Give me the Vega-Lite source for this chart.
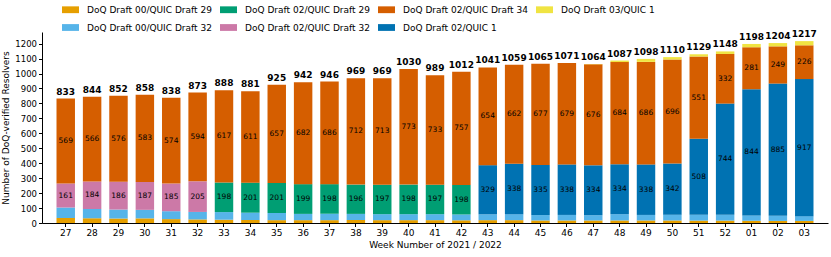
{
  "$schema": "https://vega.github.io/schema/vega-lite/v6.json",
  "width": 786,
  "height": 191,
  "autosize": {"type": "none"},
  "padding": {"left": 42, "top": 32, "right": 3, "bottom": 34},
  "config": {
    "font": "DejaVu Sans",
    "view": {"stroke": null},
    "axis": {"labelFont": "DejaVu Sans", "titleFont": "DejaVu Sans", "labelFontSize": 9, "titleFontSize": 9, "titleFontWeight": "normal", "labelColor": "#000", "titleColor": "#000", "domainColor": "#000", "tickColor": "#000", "tickSize": 3.5, "labelPadding": 2, "grid": false},
    "axisY": {"tickCount": 13, "labelOverlap": false, "labelFontSize": 8.5}
  },
  "data": {"values": [
    {"w":"27","v":"DoQ Draft 00/QUIC Draft 29","n":34},{"w":"27","v":"DoQ Draft 00/QUIC Draft 32","n":69},{"w":"27","v":"DoQ Draft 02/QUIC Draft 32","n":161},{"w":"27","v":"DoQ Draft 02/QUIC Draft 34","n":569},
    {"w":"28","v":"DoQ Draft 00/QUIC Draft 29","n":31},{"w":"28","v":"DoQ Draft 00/QUIC Draft 32","n":63},{"w":"28","v":"DoQ Draft 02/QUIC Draft 32","n":184},{"w":"28","v":"DoQ Draft 02/QUIC Draft 34","n":566},
    {"w":"29","v":"DoQ Draft 00/QUIC Draft 29","n":30},{"w":"29","v":"DoQ Draft 00/QUIC Draft 32","n":60},{"w":"29","v":"DoQ Draft 02/QUIC Draft 32","n":186},{"w":"29","v":"DoQ Draft 02/QUIC Draft 34","n":576},
    {"w":"30","v":"DoQ Draft 00/QUIC Draft 29","n":31},{"w":"30","v":"DoQ Draft 00/QUIC Draft 32","n":57},{"w":"30","v":"DoQ Draft 02/QUIC Draft 32","n":187},{"w":"30","v":"DoQ Draft 02/QUIC Draft 34","n":583},
    {"w":"31","v":"DoQ Draft 00/QUIC Draft 29","n":26},{"w":"31","v":"DoQ Draft 00/QUIC Draft 32","n":53},{"w":"31","v":"DoQ Draft 02/QUIC Draft 32","n":185},{"w":"31","v":"DoQ Draft 02/QUIC Draft 34","n":574},
    {"w":"32","v":"DoQ Draft 00/QUIC Draft 29","n":24},{"w":"32","v":"DoQ Draft 00/QUIC Draft 32","n":50},{"w":"32","v":"DoQ Draft 02/QUIC Draft 32","n":205},{"w":"32","v":"DoQ Draft 02/QUIC Draft 34","n":594},
    {"w":"33","v":"DoQ Draft 00/QUIC Draft 29","n":22},{"w":"33","v":"DoQ Draft 00/QUIC Draft 32","n":51},{"w":"33","v":"DoQ Draft 02/QUIC Draft 29","n":198},{"w":"33","v":"DoQ Draft 02/QUIC Draft 34","n":617},
    {"w":"34","v":"DoQ Draft 00/QUIC Draft 29","n":20},{"w":"34","v":"DoQ Draft 00/QUIC Draft 32","n":49},{"w":"34","v":"DoQ Draft 02/QUIC Draft 29","n":201},{"w":"34","v":"DoQ Draft 02/QUIC Draft 34","n":611},
    {"w":"35","v":"DoQ Draft 00/QUIC Draft 29","n":19},{"w":"35","v":"DoQ Draft 00/QUIC Draft 32","n":48},{"w":"35","v":"DoQ Draft 02/QUIC Draft 29","n":201},{"w":"35","v":"DoQ Draft 02/QUIC Draft 34","n":657},
    {"w":"36","v":"DoQ Draft 00/QUIC Draft 29","n":19},{"w":"36","v":"DoQ Draft 00/QUIC Draft 32","n":42},{"w":"36","v":"DoQ Draft 02/QUIC Draft 29","n":199},{"w":"36","v":"DoQ Draft 02/QUIC Draft 34","n":682},
    {"w":"37","v":"DoQ Draft 00/QUIC Draft 29","n":19},{"w":"37","v":"DoQ Draft 00/QUIC Draft 32","n":43},{"w":"37","v":"DoQ Draft 02/QUIC Draft 29","n":198},{"w":"37","v":"DoQ Draft 02/QUIC Draft 34","n":686},
    {"w":"38","v":"DoQ Draft 00/QUIC Draft 29","n":20},{"w":"38","v":"DoQ Draft 00/QUIC Draft 32","n":41},{"w":"38","v":"DoQ Draft 02/QUIC Draft 29","n":196},{"w":"38","v":"DoQ Draft 02/QUIC Draft 34","n":712},
    {"w":"39","v":"DoQ Draft 00/QUIC Draft 29","n":19},{"w":"39","v":"DoQ Draft 00/QUIC Draft 32","n":40},{"w":"39","v":"DoQ Draft 02/QUIC Draft 29","n":197},{"w":"39","v":"DoQ Draft 02/QUIC Draft 34","n":713},
    {"w":"40","v":"DoQ Draft 00/QUIC Draft 29","n":19},{"w":"40","v":"DoQ Draft 00/QUIC Draft 32","n":40},{"w":"40","v":"DoQ Draft 02/QUIC Draft 29","n":198},{"w":"40","v":"DoQ Draft 02/QUIC Draft 34","n":773},
    {"w":"41","v":"DoQ Draft 00/QUIC Draft 29","n":19},{"w":"41","v":"DoQ Draft 00/QUIC Draft 32","n":40},{"w":"41","v":"DoQ Draft 02/QUIC Draft 29","n":197},{"w":"41","v":"DoQ Draft 02/QUIC Draft 34","n":733},
    {"w":"42","v":"DoQ Draft 00/QUIC Draft 29","n":18},{"w":"42","v":"DoQ Draft 00/QUIC Draft 32","n":39},{"w":"42","v":"DoQ Draft 02/QUIC Draft 29","n":198},{"w":"42","v":"DoQ Draft 02/QUIC Draft 34","n":757},
    {"w":"43","v":"DoQ Draft 00/QUIC Draft 29","n":19},{"w":"43","v":"DoQ Draft 00/QUIC Draft 32","n":39},{"w":"43","v":"DoQ Draft 02/QUIC 1","n":329},{"w":"43","v":"DoQ Draft 02/QUIC Draft 34","n":654},
    {"w":"44","v":"DoQ Draft 00/QUIC Draft 29","n":19},{"w":"44","v":"DoQ Draft 00/QUIC Draft 32","n":40},{"w":"44","v":"DoQ Draft 02/QUIC 1","n":338},{"w":"44","v":"DoQ Draft 02/QUIC Draft 34","n":662},
    {"w":"45","v":"DoQ Draft 00/QUIC Draft 29","n":17},{"w":"45","v":"DoQ Draft 00/QUIC Draft 32","n":36},{"w":"45","v":"DoQ Draft 02/QUIC 1","n":335},{"w":"45","v":"DoQ Draft 02/QUIC Draft 34","n":677},
    {"w":"46","v":"DoQ Draft 00/QUIC Draft 29","n":17},{"w":"46","v":"DoQ Draft 00/QUIC Draft 32","n":37},{"w":"46","v":"DoQ Draft 02/QUIC 1","n":338},{"w":"46","v":"DoQ Draft 02/QUIC Draft 34","n":679},
    {"w":"47","v":"DoQ Draft 00/QUIC Draft 29","n":17},{"w":"47","v":"DoQ Draft 00/QUIC Draft 32","n":35},{"w":"47","v":"DoQ Draft 02/QUIC 1","n":334},{"w":"47","v":"DoQ Draft 02/QUIC Draft 34","n":676},{"w":"47","v":"DoQ Draft 03/QUIC 1","n":2},
    {"w":"48","v":"DoQ Draft 00/QUIC Draft 29","n":17},{"w":"48","v":"DoQ Draft 00/QUIC Draft 32","n":42},{"w":"48","v":"DoQ Draft 02/QUIC 1","n":334},{"w":"48","v":"DoQ Draft 02/QUIC Draft 34","n":684},{"w":"48","v":"DoQ Draft 03/QUIC 1","n":10},
    {"w":"49","v":"DoQ Draft 00/QUIC Draft 29","n":17},{"w":"49","v":"DoQ Draft 00/QUIC Draft 32","n":37},{"w":"49","v":"DoQ Draft 02/QUIC 1","n":338},{"w":"49","v":"DoQ Draft 02/QUIC Draft 34","n":686},{"w":"49","v":"DoQ Draft 03/QUIC 1","n":20},
    {"w":"50","v":"DoQ Draft 00/QUIC Draft 29","n":17},{"w":"50","v":"DoQ Draft 00/QUIC Draft 32","n":39},{"w":"50","v":"DoQ Draft 02/QUIC 1","n":342},{"w":"50","v":"DoQ Draft 02/QUIC Draft 34","n":696},{"w":"50","v":"DoQ Draft 03/QUIC 1","n":16},
    {"w":"51","v":"DoQ Draft 00/QUIC Draft 29","n":16},{"w":"51","v":"DoQ Draft 00/QUIC Draft 32","n":39},{"w":"51","v":"DoQ Draft 02/QUIC 1","n":508},{"w":"51","v":"DoQ Draft 02/QUIC Draft 34","n":551},{"w":"51","v":"DoQ Draft 03/QUIC 1","n":15},
    {"w":"52","v":"DoQ Draft 00/QUIC Draft 29","n":16},{"w":"52","v":"DoQ Draft 00/QUIC Draft 32","n":39},{"w":"52","v":"DoQ Draft 02/QUIC 1","n":744},{"w":"52","v":"DoQ Draft 02/QUIC Draft 34","n":332},{"w":"52","v":"DoQ Draft 03/QUIC 1","n":17},
    {"w":"01","v":"DoQ Draft 00/QUIC Draft 29","n":15},{"w":"01","v":"DoQ Draft 00/QUIC Draft 32","n":36},{"w":"01","v":"DoQ Draft 02/QUIC 1","n":844},{"w":"01","v":"DoQ Draft 02/QUIC Draft 34","n":281},{"w":"01","v":"DoQ Draft 03/QUIC 1","n":22},
    {"w":"02","v":"DoQ Draft 00/QUIC Draft 29","n":14},{"w":"02","v":"DoQ Draft 00/QUIC Draft 32","n":34},{"w":"02","v":"DoQ Draft 02/QUIC 1","n":885},{"w":"02","v":"DoQ Draft 02/QUIC Draft 34","n":249},{"w":"02","v":"DoQ Draft 03/QUIC 1","n":22},
    {"w":"03","v":"DoQ Draft 00/QUIC Draft 29","n":14},{"w":"03","v":"DoQ Draft 00/QUIC Draft 32","n":32},{"w":"03","v":"DoQ Draft 02/QUIC 1","n":917},{"w":"03","v":"DoQ Draft 02/QUIC Draft 34","n":226},{"w":"03","v":"DoQ Draft 03/QUIC 1","n":28}
  ]},
  "encoding": {
    "x": {
      "field": "w", "type": "nominal",
      "sort": ["27","28","29","30","31","32","33","34","35","36","37","38","39","40","41","42","43","44","45","46","47","48","49","50","51","52","01","02","03"],
      "scale": {"paddingInner": 0.3, "paddingOuter": 0.55},
      "axis": {"title": "Week Number of 2021 / 2022", "labelAngle": 0, "titlePadding": 3}
    }
  },
  "layer": [
    {
      "mark": {"type": "bar"},
      "encoding": {
        "y": {
          "field": "n", "type": "quantitative", "stack": "zero",
          "scale": {"domain": [0, 1278], "nice": false, "zero": true},
          "axis": {"title": "Number of DoQ-verified Resolvers", "values": [0,100,200,300,400,500,600,700,800,900,1000,1100,1200], "format": "d", "titlePadding": 4}
        },
        "order": {"field": "v", "sort": "ascending"},
        "color": {
          "field": "v", "type": "nominal",
          "scale": {
            "domain": ["DoQ Draft 00/QUIC Draft 29","DoQ Draft 00/QUIC Draft 32","DoQ Draft 02/QUIC Draft 29","DoQ Draft 02/QUIC Draft 32","DoQ Draft 02/QUIC Draft 34","DoQ Draft 02/QUIC 1","DoQ Draft 03/QUIC 1"],
            "range": ["#E69F00","#56B4E9","#009E73","#CC79A7","#D55E00","#0072B2","#F0E442"]
          },
          "legend": {
            "title": null, "orient": "none", "legendX": 20, "legendY": -31, "columns": 4, "gridAlign": "all",
            "symbolType": "M-1,-0.4H1V0.4H-1Z", "symbolSize": 289, "symbolStrokeWidth": 0,
            "labelFont": "DejaVu Sans", "labelFontSize": 9, "labelColor": "#000", "labelOffset": 8,
            "columnPadding": 8, "rowPadding": 4, "labelLimit": 300
          }
        }
      }
    },
    {
      "mark": {"type": "text", "fontSize": 7.5, "color": "#000", "baseline": "middle"},
      "encoding": {
        "y": {"field": "n", "type": "quantitative", "stack": "zero", "bandPosition": 0.5,
          "axis": {"title": "Number of DoQ-verified Resolvers", "values": [0,100,200,300,400,500,600,700,800,900,1000,1100,1200], "format": "d", "titlePadding": 4}},
        "order": {"field": "v", "sort": "ascending"},
        "detail": {"field": "v"},
        "text": {
          "condition": {"test": "indexof(['DoQ Draft 00/QUIC Draft 29','DoQ Draft 00/QUIC Draft 32','DoQ Draft 03/QUIC 1'], datum.v) < 0", "field": "n", "type": "quantitative"},
          "value": ""
        }
      }
    },
    {
      "transform": [{"aggregate": [{"op": "sum", "field": "n", "as": "total"}], "groupby": ["w"]}],
      "mark": {"type": "text", "fontSize": 9, "fontWeight": "bold", "color": "#000", "baseline": "bottom", "dy": -2},
      "encoding": {
        "y": {"field": "total", "type": "quantitative",
          "axis": {"title": "Number of DoQ-verified Resolvers", "values": [0,100,200,300,400,500,600,700,800,900,1000,1100,1200], "format": "d", "titlePadding": 4}},
        "text": {"field": "total", "type": "quantitative"}
      }
    }
  ]
}
